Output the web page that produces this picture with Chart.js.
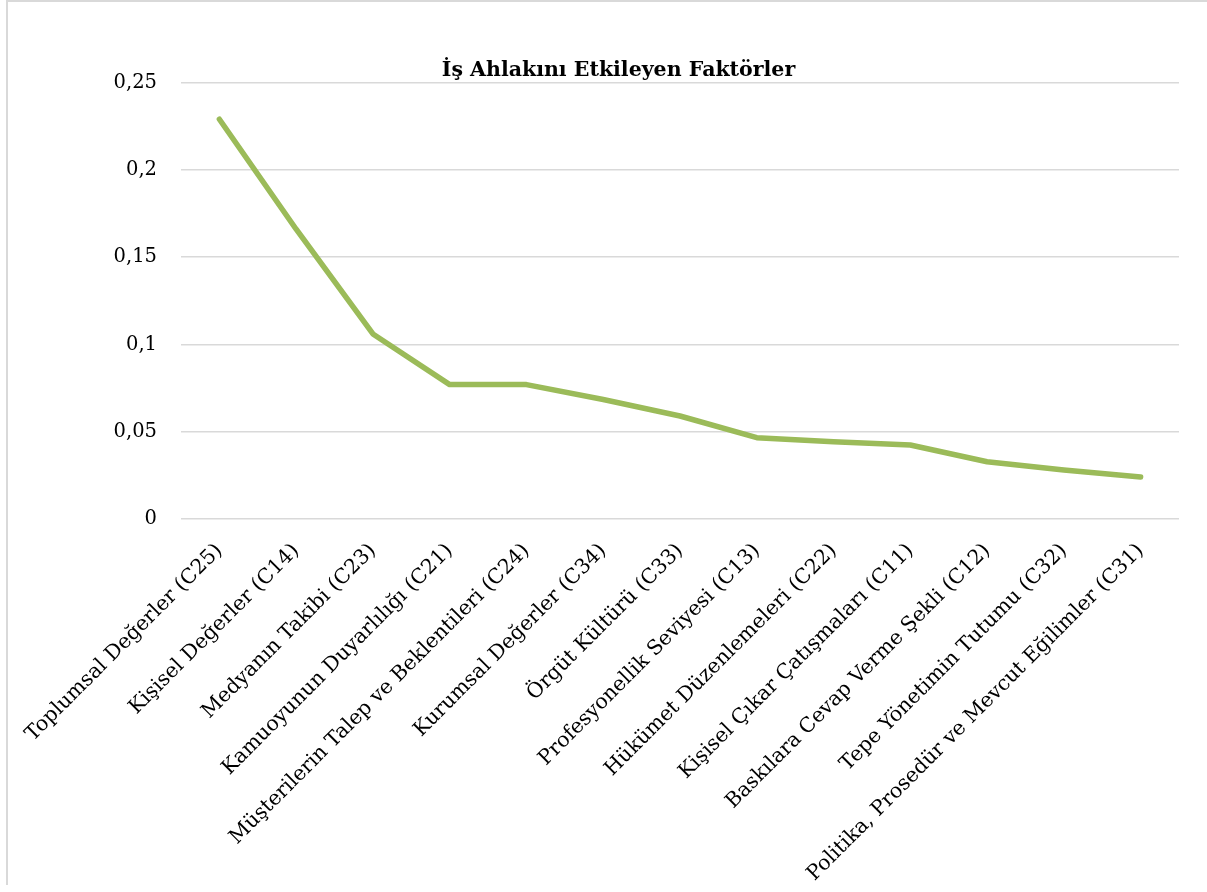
<!DOCTYPE html>
<html>
<head>
<meta charset="utf-8">
<script src="https://cdn.jsdelivr.net/npm/chart.js@4"></script>
<style>
  body { margin: 0; background: #fff; overflow: hidden; }
  #wrap { position: relative; width: 1207px; height: 892px; }
  #frame { position: absolute; left: 6px; top: 0; width: 1201px; height: 885px;
           border-top: 2px solid #d9d9d9; border-left: 2px solid #d9d9d9; box-sizing: border-box; }
  #grafico { position: absolute; left: 0; top: 0; }
</style>
</head>
<body>
<div id="wrap">
  <div id="frame"></div>
  <canvas id="grafico" width="1207" height="892"></canvas>
</div>
<script>
// etichette delle categorie (asse x)
const fattori = [
  "Toplumsal Değerler (C25)",
  "Kişisel Değerler (C14)",
  "Medyanın Takibi (C23)",
  "Kamuoyunun Duyarlılığı (C21)",
  "Müşterilerin Talep ve Beklentileri (C24)",
  "Kurumsal Değerler (C34)",
  "Örgüt Kültürü (C33)",
  "Profesyonellik Seviyesi (C13)",
  "Hükümet Düzenlemeleri (C22)",
  "Kişisel Çıkar Çatışmaları (C11)",
  "Baskılara Cevap Verme Şekli (C12)",
  "Tepe Yönetimin Tutumu (C32)",
  "Politika, Prosedür ve Mevcut Eğilimler (C31)"
]

// pesi
const pesi = [0.229, 0.166, 0.106, 0.077, 0.077, 0.0685, 0.059, 0.0466, 0.0443, 0.0424, 0.0328, 0.0281, 0.0241]

// tacche asse y
const yMin = 0
const yMax = 0.25
const yStep = 0.05

const titolo = "İş Ahlakını Etkileyen Faktörler"

const font = "'DejaVu Serif', 'Liberation Serif', serif"

new Chart(document.querySelector('#grafico'), {
  type: 'line',
  data: {
    labels: fattori,
    datasets: [{
      label: titolo,
      data: pesi,
      borderColor: '#9bbb59',
      borderWidth: 5.5,
      borderCapStyle: 'round',
      borderJoinStyle: 'round',
      pointRadius: 0,
      tension: 0,
      fill: false
    }]
  },
  options: {
    responsive: false,
    animation: false,
    // padding sinistro largo per centrare il titolo come nell'originale
    layout: { padding: { left: 58, right: 28, top: 0, bottom: 0 } },
    plugins: {
      legend: { display: false },
      tooltip: { enabled: false },
      title: {
        display: true,
        text: titolo,
        color: '#000',
        font: { family: font, size: 20.5, weight: 'bold' },
        padding: { top: 58, bottom: 0 }
      }
    },
    scales: {
      x: {
        offset: true,
        grid: { display: false },
        border: { display: false },
        ticks: {
          autoSkip: false,
          minRotation: 45,
          maxRotation: 45,
          padding: 12,
          color: '#000',
          font: { family: font, size: 20.5 }
        },
        afterFit: (axis) => { axis.height = 892 - 519 }
      },
      y: {
        min: yMin,
        max: yMax,
        grid: { color: '#d9d9d9', lineWidth: 1.5, drawTicks: false },
        border: { display: false },
        ticks: {
          stepSize: yStep,
          padding: 24,
          color: '#000',
          font: { family: font, size: 19.5 },
          callback: (v) => String(+v.toFixed(2)).replace('.', ',')
        },
        afterFit: (axis) => { axis.width = 181 - 58 }
      }
    }
  }
})
</script>
</body>
</html>
